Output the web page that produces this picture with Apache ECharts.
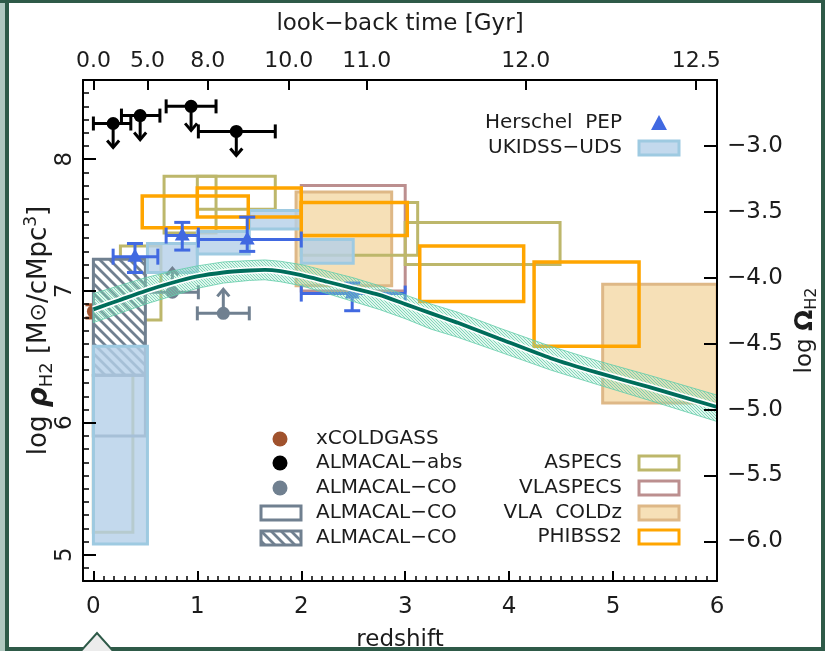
<!DOCTYPE html>
<html>
<head>
<meta charset="utf-8">
<script src="https://cdn.jsdelivr.net/npm/echarts@6/dist/echarts.min.js"></script>
<style>
  html, body { margin: 0; padding: 0; background: #fff; }
  #chart { width: 825px; height: 651px; }
</style>
</head>
<body>
<div id="chart"></div>
<script>
// ---- axes ----
const redshiftTicks = [0, 1, 2, 3, 4, 5, 6];
const rhoTicks = [5, 6, 7, 8];
const omegaTicks = [-6.0, -5.5, -5.0, -4.5, -4.0, -3.5, -3.0];
const lookbackLabels = ['0.0', '5.0', '8.0', '10.0', '11.0', '12.0', '12.5'];
const lookbackRedshifts = [0, 0.52, 1.1, 1.88, 2.63, 4.16, 5.8];

// ---- boxes: [zMin, zMax, logRhoMin, logRhoMax] ----
const ukidssBoxes = [
  [0.0, 0.52, 5.08, 6.58],
  [0.52, 1.0, 7.14, 7.36],
  [1.0, 1.5, 7.28, 7.45],
  [1.5, 2.0, 7.47, 7.61],
  [2.0, 2.5, 7.21, 7.39]
];
const aspecsBoxes = [
  [0.0, 0.38, 5.17, 6.9],
  [0.26, 0.65, 6.78, 7.34],
  [0.68, 1.18, 7.44, 7.87],
  [1.0, 1.75, 7.62, 7.87],
  [2.0, 3.12, 7.27, 7.67],
  [3.0, 4.49, 7.2, 7.52]
];
const vlaspecsBoxes = [[2.0, 3.0, 7.0, 7.8]];
const coldzBoxes = [
  [1.95, 2.87, 7.04, 7.75],
  [4.9, 6.0, 6.15, 7.05]
];
const phibssBoxes = [
  [0.47, 1.49, 7.48, 7.72],
  [1.0, 2.0, 7.56, 7.78],
  [2.0, 3.02, 7.42, 7.67],
  [3.14, 4.14, 6.92, 7.34],
  [4.24, 5.25, 6.58, 7.22]
];
const almacalOpenBoxes = [[0.0, 0.5, 5.9, 6.36]];
const almacalHatchBoxes = [[0.0, 0.5, 6.36, 7.24]];

// ---- points ----
// [z, logRho, zLow, zHigh]  (upper limits)
const almacalAbs = [
  [0.19, 8.27, 0.0, 0.36],
  [0.45, 8.33, 0.27, 0.64],
  [0.94, 8.40, 0.70, 1.18],
  [1.375, 8.21, 1.01, 1.75]
];
// [z, logRho, zLow, zHigh]  (lower limits)
const almacalCO = [
  [0.76, 6.99, 0.5, 1.01],
  [1.25, 6.83, 1.0, 1.5]
];
// [z, logRho, zLow, zHigh, rhoLow, rhoHigh]
const herschelPEP = [
  [0.40, 7.26, 0.19, 0.62, 7.14, 7.36],
  [0.855, 7.42, 0.70, 1.01, 7.31, 7.52],
  [1.48, 7.39, 1.01, 2.0, 7.30, 7.56],
  [2.49, 6.98, 2.0, 3.0, 6.85, 7.06]
];
// [z, logRho, rhoLow, rhoHigh]
const xcoldgass = [[0.0, 6.845, 6.795, 6.895]];

// ---- model track ----
const modelZ   = [0, 0.25, 0.5, 0.75, 1.0, 1.25, 1.5, 1.65, 1.8, 2.0, 2.25, 2.5, 2.75, 3.0, 3.25, 3.5, 3.9, 4.4, 4.85, 5.35, 6.0];
const modelMid = [6.86, 6.93, 7.0, 7.06, 7.11, 7.14, 7.155, 7.16, 7.15, 7.12, 7.07, 7.02, 6.97, 6.90, 6.83, 6.76, 6.64, 6.49, 6.38, 6.27, 6.12];
const modelHi  = [6.98, 7.04, 7.10, 7.15, 7.19, 7.22, 7.23, 7.235, 7.225, 7.20, 7.15, 7.10, 7.04, 6.97, 6.90, 6.84, 6.72, 6.58, 6.47, 6.36, 6.21];
const modelLo  = [6.76, 6.83, 6.90, 6.96, 7.02, 7.06, 7.08, 7.085, 7.07, 7.04, 6.98, 6.92, 6.86, 6.79, 6.71, 6.65, 6.54, 6.40, 6.29, 6.17, 6.01];

// ---- legend text ----
const legendLeft = ['xCOLDGASS', 'ALMACAL\u2212abs', 'ALMACAL\u2212CO', 'ALMACAL\u2212CO', 'ALMACAL\u2212CO'];
const legendRight = ['ASPECS', 'VLASPECS', 'VLA  COLDz', 'PHIBSS2'];
const legendTop = ['Herschel  PEP', 'UKIDSS\u2212UDS'];

const FONT = 'DejaVu Sans';
const TXT = '#1c1c1c';
const C = {
  aspecs: '#bdb76b', vlaspecs: '#bc8f8f', coldzFill: 'rgba(245,222,179,0.95)', coldzLine: '#deb887',
  phibss: '#ffa500', ukFill: 'rgba(180,208,233,0.8)', ukLine: '#9ecae1', grey: '#708090',
  blue: '#4169e1', black: '#000000', brown: '#a0522d', model: '#006d5b'
};

function hatch(size, width, fg, bg) {
  const c = document.createElement('canvas');
  c.width = c.height = size;
  const g = c.getContext('2d');
  if (bg) { g.fillStyle = bg; g.fillRect(0, 0, size, size); }
  g.strokeStyle = fg; g.lineWidth = width;
  g.beginPath();
  for (let k = -1; k <= 1; k++) {
    g.moveTo(-1, k * size - 1); g.lineTo(size + 1, size + k * size + 1);
  }
  g.stroke();
  return { image: c, repeat: 'repeat' };
}
const greyHatch = hatch(10, 2.8, C.grey, '#ffffff');
const bandHatch = hatch(3, 1, 'rgba(100,205,170,0.75)', 'rgba(150,222,197,0.3)');

function boxSeries(data, style) {
  return {
    type: 'custom', coordinateSystem: 'cartesian2d', xAxisIndex: 0, yAxisIndex: 0,
    clip: true, silent: true, data: data,
    encode: { x: [0, 1], y: [2, 3] },
    renderItem: (params, api) => {
      const a = api.coord([api.value(0), api.value(3)]);
      const b = api.coord([api.value(1), api.value(2)]);
      return { type: 'rect', shape: { x: a[0], y: a[1], width: b[0] - a[0], height: b[1] - a[1] }, style: style };
    }
  };
}

function seg(x1, y1, x2, y2, color, w) {
  return { type: 'line', shape: { x1, y1, x2, y2 }, style: { stroke: color, lineWidth: w || 3 } };
}

function limitSeries(data, color, dir) {
  return {
    type: 'custom', coordinateSystem: 'cartesian2d', xAxisIndex: 0, yAxisIndex: 0,
    clip: true, silent: true, data: data, encode: { x: [0, 2, 3], y: 1 },
    renderItem: (params, api) => {
      const y = api.value(1);
      const c = api.coord([api.value(0), y]);
      const l = api.coord([api.value(2), y]);
      const r = api.coord([api.value(3), y]);
      const tip = c[1] + dir * 24;
      return {
        type: 'group', children: [
          seg(l[0], c[1], r[0], c[1], color),
          seg(l[0], c[1] - 7, l[0], c[1] + 7, color),
          seg(r[0], c[1] - 7, r[0], c[1] + 7, color),
          seg(c[0], c[1], c[0], tip, color),
          { type: 'polyline', shape: { points: [[c[0] - 6, tip - dir * 7], [c[0], tip], [c[0] + 6, tip - dir * 7]] },
            style: { stroke: color, lineWidth: 3, fill: null } },
          { type: 'circle', shape: { cx: c[0], cy: c[1], r: 6.5 }, style: { fill: color } }
        ]
      };
    }
  };
}

const option = {
  animation: false,
  backgroundColor: '#ffffff',
  grid: { left: 83, right: 108, top: 80, bottom: 70, containLabel: false, outerBoundsMode: 'none' },
  xAxis: [
    {
      type: 'value', min: -0.1, max: 6, position: 'bottom', z: 10,
      axisLine: { onZero: false, lineStyle: { color: '#000', width: 2 } },
      axisTick: { inside: true, length: 10, lineStyle: { color: '#000', width: 2 }, customValues: redshiftTicks },
      axisLabel: { customValues: redshiftTicks, margin: 15, fontSize: 23, fontFamily: FONT, color: TXT },
      splitLine: { show: false },
      name: 'redshift', nameLocation: 'middle', nameGap: 48, nameMoveOverlap: false,
      nameTextStyle: { fontSize: 23, fontFamily: FONT, color: TXT }
    },
    {
      type: 'value', min: -0.1, max: 6, position: 'bottom', z: 10,
      axisLine: { show: false, onZero: false },
      axisTick: { inside: true, length: 5, lineStyle: { color: '#000', width: 1.5 },
        customValues: (() => { const v = []; for (let i = 1; i < 60; i++) if (i % 10) v.push(i / 10); return v; })() },
      axisLabel: { show: false }, splitLine: { show: false }
    },
    {
      type: 'value', min: -0.1, max: 6, position: 'top', z: 10,
      axisLine: { onZero: false, lineStyle: { color: '#000', width: 2 } },
      axisTick: { inside: true, length: 10, lineStyle: { color: '#000', width: 2 }, customValues: lookbackRedshifts },
      axisLabel: { customValues: lookbackRedshifts, margin: 8, fontSize: 22, fontFamily: FONT, color: TXT,
        formatter: v => lookbackLabels[lookbackRedshifts.indexOf(v)] },
      splitLine: { show: false },
      name: 'look\u2212back time [Gyr]', nameLocation: 'middle', nameGap: 44, nameMoveOverlap: false,
      nameTextStyle: { fontSize: 23, fontFamily: FONT, color: TXT }
    }
  ],
  yAxis: [
    {
      type: 'value', min: 4.8, max: 8.6, position: 'left', z: 10,
      axisLine: { onZero: false, lineStyle: { color: '#000', width: 2 } },
      axisTick: { inside: true, length: 13, lineStyle: { color: '#000', width: 2 }, customValues: rhoTicks },
      axisLabel: { customValues: rhoTicks, rotate: 90, margin: 6, fontSize: 23, fontFamily: FONT, color: TXT },
      splitLine: { show: false },
      name: 'log {rho|\u03c1}{sub|H2} [M{sun|\u2299}/cMpc{sup|3}]',
      nameLocation: 'middle', nameRotate: 90, nameGap: 27, nameMoveOverlap: false,
      nameTextStyle: {
        fontSize: 26, fontFamily: FONT, color: TXT, lineHeight: 33,
        rich: {
          rho: { fontSize: 28, fontStyle: 'italic', fontWeight: 'bold', fontFamily: FONT, color: TXT },
          sub: { fontSize: 18, fontFamily: FONT, color: TXT, verticalAlign: 'bottom', lineHeight: 18 },
          sup: { fontSize: 17, fontFamily: FONT, color: TXT, verticalAlign: 'top', lineHeight: 17 },
          sun: { fontSize: 22, fontFamily: FONT, color: TXT }
        }
      }
    },
    {
      type: 'value', min: 4.8, max: 8.6, position: 'left', z: 10,
      axisLine: { show: false, onZero: false },
      axisTick: { inside: true, length: 6, lineStyle: { color: '#000', width: 1.5 },
        customValues: (() => { const v = []; for (let i = 49; i <= 85; i++) if (i % 10) v.push(i / 10); return v; })() },
      axisLabel: { show: false }, splitLine: { show: false }
    },
    {
      type: 'value', min: -6.3, max: -2.5, position: 'right', z: 10,
      axisLine: { onZero: false, lineStyle: { color: '#000', width: 2 } },
      axisTick: { inside: true, length: 13, lineStyle: { color: '#000', width: 2 }, customValues: omegaTicks },
      axisLabel: { customValues: omegaTicks, margin: 10, fontSize: 23, fontFamily: FONT, color: TXT,
        formatter: v => v.toFixed(1).replace('-', '\u2212') },
      splitLine: { show: false },
      name: 'log {om|\u03a9}{sub|H2}', nameLocation: 'middle', nameRotate: 90, nameGap: 73, nameMoveOverlap: false,
      nameTextStyle: {
        fontSize: 23, fontFamily: FONT, color: TXT, lineHeight: 30,
        rich: {
          om: { fontSize: 25, fontWeight: 'bold', fontFamily: FONT, color: TXT },
          sub: { fontSize: 16, fontFamily: FONT, color: TXT, verticalAlign: 'bottom', lineHeight: 16 }
        }
      }
    }
  ],
  series: [
    boxSeries(vlaspecsBoxes, { fill: null, stroke: C.vlaspecs, lineWidth: 3 }),
    boxSeries(coldzBoxes, { fill: C.coldzFill, stroke: C.coldzLine, lineWidth: 3 }),
    boxSeries(aspecsBoxes, { fill: null, stroke: C.aspecs, lineWidth: 3 }),
    {
      type: 'custom', coordinateSystem: 'cartesian2d', clip: true, silent: true, data: xcoldgass,
      encode: { x: 0, y: [1, 2, 3] },
      renderItem: (params, api) => {
        const c = api.coord([api.value(0), api.value(1)]);
        const lo = api.coord([api.value(0), api.value(2)]);
        const hi = api.coord([api.value(0), api.value(3)]);
        return { type: 'group', children: [
          seg(c[0], lo[1], c[0], hi[1], C.brown),
          seg(c[0] - 8, lo[1], c[0] + 8, lo[1], C.brown),
          seg(c[0] - 8, hi[1], c[0] + 8, hi[1], C.brown),
          { type: 'circle', shape: { cx: c[0], cy: c[1], r: 6.5 }, style: { fill: C.brown } }
        ] };
      }
    },
    boxSeries(almacalHatchBoxes, { fill: greyHatch, stroke: C.grey, lineWidth: 3 }),
    boxSeries(almacalOpenBoxes, { fill: null, stroke: C.grey, lineWidth: 3 }),
    boxSeries(ukidssBoxes, { fill: C.ukFill, stroke: C.ukLine, lineWidth: 3 }),
    boxSeries(phibssBoxes, { fill: null, stroke: C.phibss, lineWidth: 3.5 }),
    limitSeries(almacalCO, C.grey, -1),
    limitSeries(almacalAbs, C.black, 1),
    {
      type: 'custom', coordinateSystem: 'cartesian2d', clip: true, silent: true, data: herschelPEP,
      encode: { x: [0, 2, 3], y: [1, 4, 5] },
      renderItem: (params, api) => {
        const z = api.value(0), y = api.value(1);
        const c = api.coord([z, y]);
        const l = api.coord([api.value(2), y]);
        const r = api.coord([api.value(3), y]);
        const lo = api.coord([z, api.value(4)]);
        const hi = api.coord([z, api.value(5)]);
        const b = C.blue;
        return { type: 'group', children: [
          seg(l[0], c[1], r[0], c[1], b),
          seg(l[0], c[1] - 8, l[0], c[1] + 8, b),
          seg(r[0], c[1] - 8, r[0], c[1] + 8, b),
          seg(c[0], lo[1], c[0], hi[1], b),
          seg(c[0] - 8, lo[1], c[0] + 8, lo[1], b),
          seg(c[0] - 8, hi[1], c[0] + 8, hi[1], b),
          { type: 'polygon', shape: { points: [[c[0], c[1] - 8], [c[0] - 7.5, c[1] + 5], [c[0] + 7.5, c[1] + 5]] }, style: { fill: b } }
        ] };
      }
    },
    {
      type: 'custom', coordinateSystem: 'cartesian2d', clip: true, silent: true,
      data: [[modelZ[0], modelMid[0]]],
      renderItem: (params, api) => {
        const pts = [];
        modelZ.forEach((z, i) => pts.push(api.coord([z, modelHi[i]])));
        for (let i = modelZ.length - 1; i >= 0; i--) pts.push(api.coord([modelZ[i], modelLo[i]]));
        return { type: 'polygon', shape: { points: pts }, style: { fill: bandHatch, stroke: 'rgba(100,205,170,0.8)', lineWidth: 1 } };
      }
    },
    {
      type: 'line', data: modelZ.map((z, i) => [z, modelMid[i]]), symbol: 'none', smooth: 0.2, silent: true,
      lineStyle: { color: '#ffffff', width: 7 }, clip: true
    },
    {
      type: 'line', data: modelZ.map((z, i) => [z, modelMid[i]]), symbol: 'none', smooth: 0.2, silent: true,
      lineStyle: { color: C.model, width: 3.8 }, clip: true
    }
  ],
  graphic: []
};

// ---- frame ----
const G = option.graphic;
const FRAME = '#2e5a48';
G.push({ type: 'rect', shape: { x: 0, y: 0, width: 5, height: 651 }, style: { fill: '#b0c8c0' }, z: 100 });
G.push({ type: 'rect', shape: { x: 5, y: 0, width: 4, height: 651 }, style: { fill: FRAME }, z: 100 });
G.push({ type: 'rect', shape: { x: 0, y: 0, width: 825, height: 3 }, style: { fill: FRAME }, z: 100 });
G.push({ type: 'rect', shape: { x: 821, y: 0, width: 4, height: 651 }, style: { fill: FRAME }, z: 100 });
G.push({ type: 'rect', shape: { x: 5, y: 647, width: 820, height: 4 }, style: { fill: FRAME }, z: 100 });
G.push({ type: 'polygon', shape: { points: [[80, 652], [97, 633], [114, 652]] }, style: { fill: '#ececec', stroke: FRAME, lineWidth: 2 }, z: 101 });

// ---- legends ----
const LT = { fontSize: 20, fontFamily: FONT, fill: TXT };
const leftRows = [439, 463, 488, 513, 538];
const leftIcons = [
  { type: 'circle', shape: { cx: 280, cy: leftRows[0], r: 7.5 }, style: { fill: C.brown } },
  { type: 'circle', shape: { cx: 280, cy: leftRows[1], r: 7.5 }, style: { fill: C.black } },
  { type: 'circle', shape: { cx: 280, cy: leftRows[2], r: 7.5 }, style: { fill: C.grey } },
  { type: 'rect', shape: { x: 261, y: leftRows[3] - 7, width: 40, height: 14 }, style: { fill: '#fff', stroke: C.grey, lineWidth: 3 } },
  { type: 'rect', shape: { x: 261, y: leftRows[4] - 7, width: 40, height: 14 }, style: { fill: greyHatch, stroke: C.grey, lineWidth: 3 } }
];
leftIcons.forEach(ic => G.push(Object.assign({ z: 50 }, ic)));
legendLeft.forEach((t, i) => G.push({ type: 'text', x: 316, y: leftRows[i], z: 50,
  style: Object.assign({ text: t, textAlign: 'left', textVerticalAlign: 'middle' }, LT) }));

const rightRows = [463, 488, 513, 537];
const rightStyles = [
  { fill: '#fff', stroke: C.aspecs, lineWidth: 3 },
  { fill: '#fff', stroke: C.vlaspecs, lineWidth: 3 },
  { fill: C.coldzFill, stroke: C.coldzLine, lineWidth: 3 },
  { fill: '#fff', stroke: C.phibss, lineWidth: 3 }
];
legendRight.forEach((t, i) => {
  G.push({ type: 'text', x: 622, y: rightRows[i], z: 50,
    style: Object.assign({ text: t, textAlign: 'right', textVerticalAlign: 'middle' }, LT) });
  G.push({ type: 'rect', z: 50, shape: { x: 639, y: rightRows[i] - 7, width: 40, height: 14 }, style: rightStyles[i] });
});

const topRows = [123, 148];
legendTop.forEach((t, i) => G.push({ type: 'text', x: 622, y: topRows[i], z: 50,
  style: Object.assign({ text: t, textAlign: 'right', textVerticalAlign: 'middle' }, LT) }));
G.push({ type: 'polygon', z: 50, shape: { points: [[659, topRows[0] - 8], [651, topRows[0] + 7], [667, topRows[0] + 7]] }, style: { fill: C.blue } });
G.push({ type: 'rect', z: 50, shape: { x: 639, y: topRows[1] - 7, width: 40, height: 14 }, style: { fill: C.ukFill, stroke: C.ukLine, lineWidth: 3 } });

const chart = echarts.init(document.getElementById('chart'), null, { renderer: 'canvas' });
chart.setOption(option);
</script>
</body>
</html>
